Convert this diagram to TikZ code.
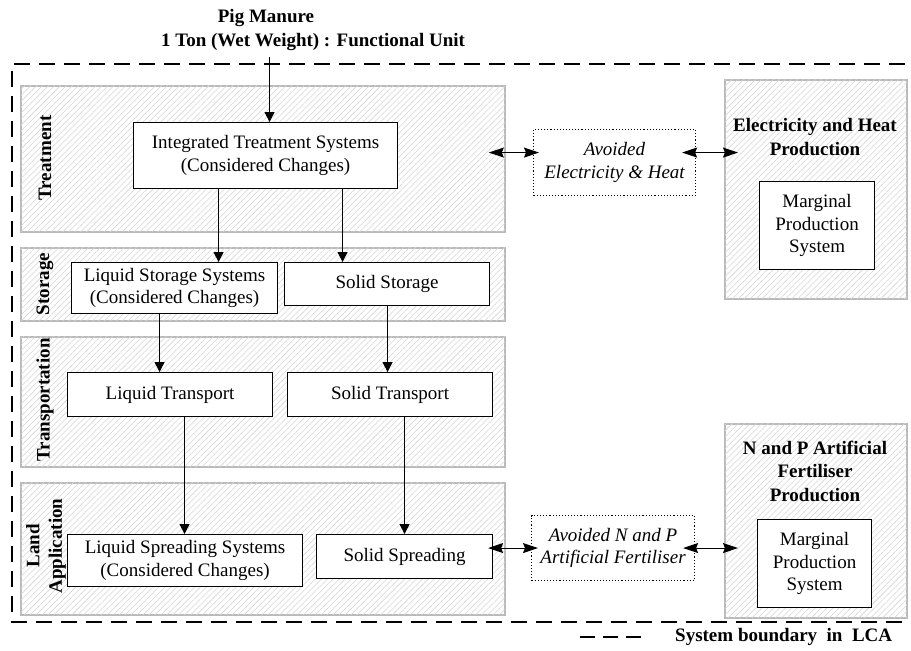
\documentclass[tikz,border=0pt]{standalone}
\usepackage{fontspec}
\setmainfont{Liberation Serif}
\usetikzlibrary{arrows.meta,patterns.meta}

\begin{document}
\begin{tikzpicture}[x=1pt,y=-1pt,
  txt/.style={font=\fontsize{19}{22.5}\selectfont, align=center, inner sep=0pt},
  panel/.style={draw=black!27, line width=1.8pt, fill=white,
    postaction={pattern={Lines[angle=45,distance=4.2pt,line width=0.55pt]}, pattern color=black!16},
    anchor=north west, inner sep=0pt},
  procbox/.style={draw=black, line width=1.1pt, fill=white, anchor=north west,
    font=\fontsize{19}{22.5}\selectfont, align=center, inner sep=0pt},
  avoidbox/.style={draw=black, line width=1.1pt, dotted, anchor=north west,
    font=\fontsize{19}{22.5}\selectfont\itshape, align=center, inner sep=0pt},
  stagelabel/.style={txt, font=\fontsize{19}{22.5}\selectfont\bfseries, rotate=90},
  arr/.style={line width=0.9pt, -{Triangle[length=10pt,width=10pt]}},
  dbl/.style={line width=1.1pt, {Stealth[length=15pt,width=10pt,inset=2pt]}-{Stealth[length=15pt,width=10pt,inset=2pt]}},
  boundary/.style={line width=2pt, dash pattern=on 16pt off 9pt}
]
\useasboundingbox (0,0) rectangle (911,651);

% system boundary (open on the right)
\begin{scope}
  \clip (0,0) rectangle (911,651);
  \draw[boundary] (930,64) -- (12,64) -- (12,622) -- (930,622);
\end{scope}

% stage panels
\node[panel, minimum width=484pt, minimum height=146pt] (treat) at (20,85) {};
\node[panel, minimum width=484pt, minimum height=73pt]  (stor)  at (20,247) {};
\node[panel, minimum width=484pt, minimum height=130pt] (trans) at (20,336) {};
\node[panel, minimum width=484pt, minimum height=132pt] (land)  at (20,482) {};
\node[panel, minimum width=182pt, minimum height=219pt] (elec)  at (724,79) {};
\node[panel, minimum width=182pt, minimum height=194pt] (fert)  at (724,423) {};

% stage labels
\node[stagelabel] (lbtreat) at (45,158) {Treatment};
\node[stagelabel] (lbstor)  at (45,284) {Storage};
\node[stagelabel] (lbtrans) at (45,400) {Transportation};
\node[stagelabel] (lbland)  at (46,546) {Land\\Application};

% input
\node[txt, font=\fontsize{19}{22.5}\selectfont\bfseries] (pig1) at (266,18) {Pig Manure};
\node[txt, font=\fontsize{19}{22.5}\selectfont\bfseries] (pig2) at (313,42) {1 Ton (Wet Weight) : Functional Unit};

% process boxes
\node[procbox, minimum width=264pt, minimum height=66pt] (int)   at (133,122) {Integrated Treatment Systems\\(Considered Changes)};
\node[procbox, minimum width=206pt, minimum height=51pt] (lstor) at (71,262)  {Liquid Storage Systems\\(Considered Changes)};
\node[procbox, minimum width=205pt, minimum height=43pt] (sstor) at (284,262) {Solid Storage};
\node[procbox, minimum width=205pt, minimum height=44pt] (ltr)   at (67,372)  {Liquid Transport};
\node[procbox, minimum width=205pt, minimum height=44pt] (str)   at (287,372) {Solid Transport};
\node[procbox, minimum width=235pt, minimum height=52pt] (lspr)  at (67,534)  {Liquid Spreading Systems\\(Considered Changes)};
\node[procbox, minimum width=176pt, minimum height=44pt] (sspr)  at (316,534) {Solid Spreading};

% avoided products
\node[avoidbox, minimum width=162pt, minimum height=66pt] (aeh) at (533,129) {Avoided\\Electricity \& Heat};
\node[avoidbox, minimum width=163pt, minimum height=65pt] (anp) at (531,515) {Avoided N and P\\Artificial Fertiliser};

% substituted production systems
\node[txt, font=\fontsize{19}{23.5}\selectfont\bfseries] (eltitle) at (815,137) {Electricity and Heat\\Production};
\node[procbox, minimum width=115pt, minimum height=88pt] (mps1) at (759,181) {Marginal\\Production\\System};
\node[txt, font=\fontsize{19}{23.5}\selectfont\bfseries] (fttitle) at (815,471) {N and P Artificial\\Fertiliser\\Production};
\node[procbox, minimum width=114pt, minimum height=88pt] (mps2) at (757,519) {Marginal\\Production\\System};

% material flow
\draw[arr] ([xshift=4pt,yshift=-6pt]int.north |- pig2.south) -- ([xshift=4pt]int.north);
\draw[arr] ([xshift=-47pt]int.south) -- ([xshift=-47pt]int.south |- lstor.north);
\draw[arr] ([xshift=77pt]int.south)  -- ([xshift=77pt]int.south |- sstor.north);
\draw[arr] ([xshift=-15pt]lstor.south) -- ([xshift=-15pt]lstor.south |- ltr.north);
\draw[arr] ([xshift=0.5pt]sstor.south) -- ([xshift=0.5pt]sstor.south |- str.north);
\draw[arr] ([xshift=14.5pt]ltr.south) -- ([xshift=14.5pt]ltr.south |- lspr.north);
\draw[arr] ([xshift=14.5pt]str.south) -- ([xshift=14.5pt]str.south |- sspr.north);

% avoided burdens
\draw[dbl] ([shift={(-17pt,10pt)}]treat.east |- aeh.west) -- ([shift={(6pt,10pt)}]aeh.west);
\draw[dbl] ([shift={(-14pt,10pt)}]aeh.east) -- ([shift={(14pt,10pt)}]elec.west |- aeh.east);
\draw[dbl] ([xshift=-5pt]sspr.east |- anp.west) -- ([xshift=7pt]anp.west);
\draw[dbl] ([xshift=-12pt]anp.east) -- ([xshift=14pt]fert.west |- anp.east);

% legend
\node[txt, font=\fontsize{19}{22.5}\selectfont\bfseries, anchor=west] (legtext) at (675,637) {System boundary\ \ in\ \ LCA};
\coordinate (legstart) at (580,637);
\draw[line width=2pt, dash pattern=on 15pt off 8pt] (legstart) -- ([xshift=-27pt]legtext.west);
\end{tikzpicture}
\end{document}
